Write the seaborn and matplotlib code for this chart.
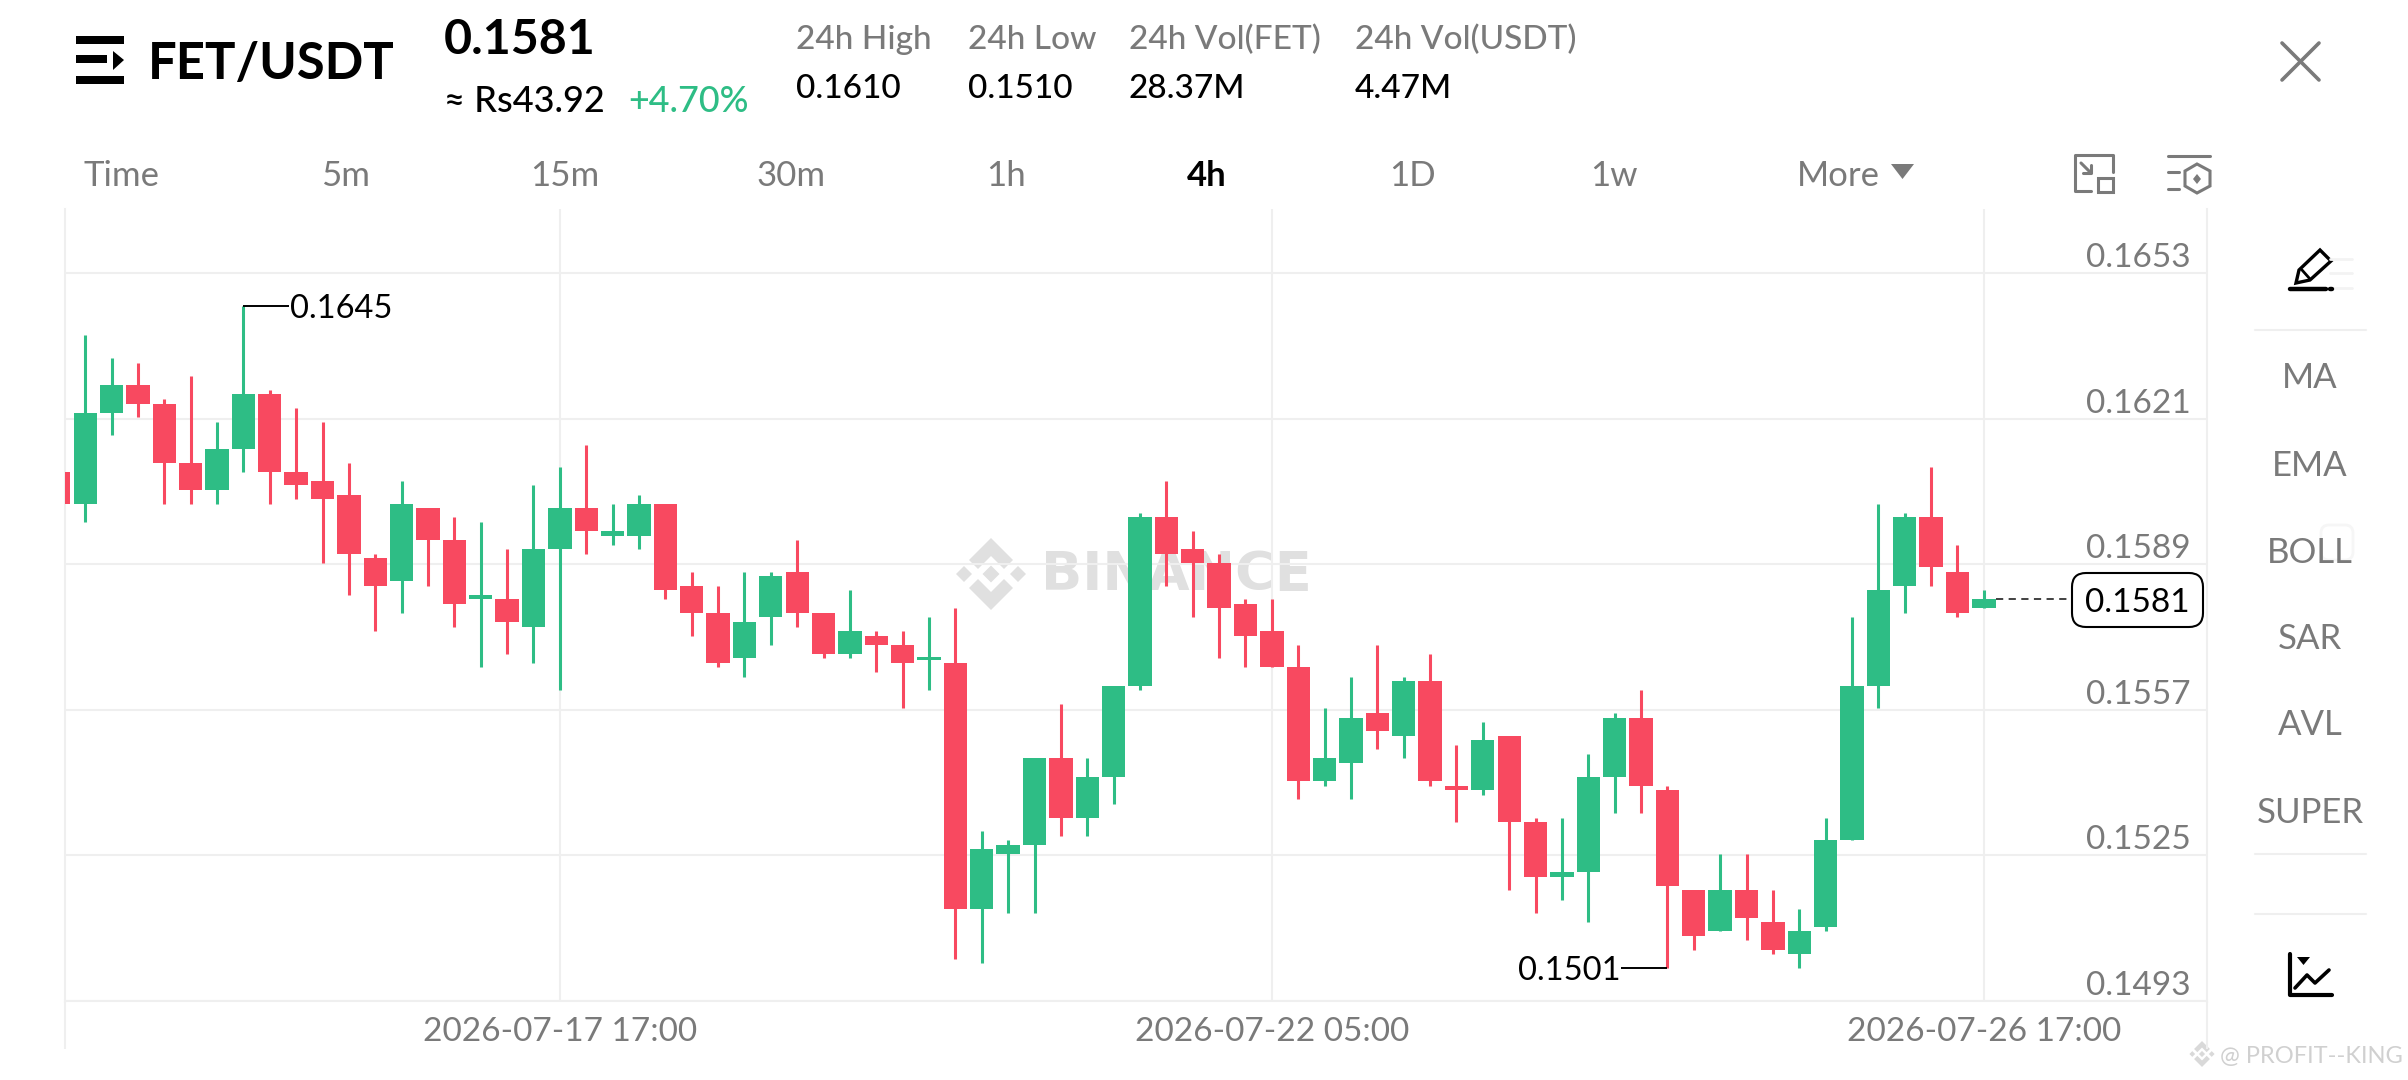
import matplotlib
matplotlib.use("Agg")
import matplotlib.pyplot as plt
from matplotlib.patches import Polygon, FancyBboxPatch, Rectangle
from matplotlib.ticker import FuncFormatter
import numpy as np
import pandas as pd
import seaborn as sns

# ---- data ----
opens = [.1609,.1602,.1622,.1628,.1624,.1611,.1605,.1614,.1626,.1609,.1607,.1604,.1590,.1585,.1601,.1594,.1581,.1581,.1575,.1592,
         .1601,.1595,.1595,.1602,.1584,.1578,.1568,.1577,.1587,.1578,.1569,.1573,.1571,.1568,.1567,.1513,.1525,.1527,.1546,.1533,
         .1542,.1562,.1599,.1592,.1589,.1580,.1574,.1566,.1541,.1545,.1556,.1551,.1563,.1540,.1539,.1551,.1532,.1520,.1521,.1542,
         .1555,.1539,.1517,.1508,.1517,.1510,.1503,.1509,.1528,.1562,.1584,.1599,.1587,.1579]
highs = [.1609,.1639,.1634,.1633,.1625,.1630,.1620,.16455,.1627,.1623,.1620,.1611,.1591,.1607,.1601,.1599,.1598,.1592,.1606,.1610,
         .1615,.1602,.1604,.1602,.1587,.1584,.1587,.1587,.1594,.1578,.1583,.1574,.1574,.1577,.1579,.1530,.1528,.1546,.1558,.1546,
         .1562,.1600,.1607,.1596,.1591,.1581,.1581,.1571,.1557,.1564,.1571,.1564,.1569,.1549,.1554,.1551,.1533,.1533,.1547,.1556,
         .1561,.1540,.1517,.1525,.1525,.1517,.1513,.1533,.1577,.1602,.1600,.1610,.1593,.1583]
lows  = [.1602,.1598,.1617,.1621,.1602,.1602,.1602,.1609,.1602,.1603,.1589,.1582,.1574,.1578,.1584,.1575,.1566,.1569,.1567,.1561,
         .1591,.1593,.1592,.1581,.1573,.1566,.1564,.1571,.1575,.1568,.1568,.1565,.1557,.1561,.1502,.1501,.1512,.1512,.1529,.1529,
         .1536,.1561,.1584,.1577,.1568,.1566,.1566,.1537,.1540,.1537,.1548,.1546,.1540,.1532,.1538,.1517,.1512,.1515,.1510,.1534,
         .1534,.1500,.1504,.1508,.1506,.1503,.1500,.1508,.1528,.1557,.1578,.1584,.1577,.1579]
closes= [.1602,.1622,.1628,.1624,.1611,.1605,.1614,.1626,.1609,.1606,.1603,.1591,.1584,.1602,.1594,.1580,.1582,.1576,.1592,.1601,
         .1596,.1596,.1602,.1583,.1578,.1567,.1576,.1586,.1578,.1569,.1574,.1571,.1567,.1568,.1513,.1526,.1527,.1546,.1533,.1542,
         .1562,.1599,.1591,.1589,.1579,.1573,.1566,.1541,.1546,.1555,.1552,.1563,.1541,.1539,.1550,.1532,.1520,.1521,.1542,.1555,
         .1540,.1518,.1507,.1517,.1511,.1504,.1508,.1528,.1562,.1583,.1599,.1588,.1578,.1581]
price_ticks = [0.16527, 0.16207, 0.15887, 0.15567, 0.15247, 0.14927]  # rounded to 4 places on the axis
time_positions = [19, 46, 73]
time_labels = ["2026-07-17 17:00", "2026-07-22 05:00", "2026-07-26 17:00"]
high_mark_label, low_mark_label, last_price_label = "0.1645", "0.1501", "0.1581"
interval_tabs = ["5m", "15m", "30m", "1h", "4h", "1D", "1w"]
stat_titles = ["24h High", "24h Low", "24h Vol(FET)", "24h Vol(USDT)"]
stat_values = ["0.1610", "0.1510", "28.37M", "4.47M"]
side_tools = ["MA", "EMA", "BOLL", "SAR", "AVL", "SUPER"]

GREEN, RED = "#2EBD85", "#F84960"
GRID, GREY, FAINT = "#EFEFEF", "#7A7A7A", "#E0E0E0"
W, H = 2408, 1080

sns.set_theme(style="white")
plt.rcParams["font.family"] = ["Lato", "DejaVu Sans"]

fig = plt.figure(figsize=(W / 100, H / 100), dpi=100, facecolor="white")

def px_axes(z):
    a = fig.add_axes([0, 0, 1, 1], zorder=z)
    a.set_xlim(0, W); a.set_ylim(H, 0); a.axis("off"); a.patch.set_alpha(0)
    return a

back = px_axes(0)
front = px_axes(5)

def logo(a, cx, cy, s, color):
    def d(x, y, r):
        a.add_patch(Polygon([(cx+(x)*s, cy+(y-r)*s), (cx+(x+r)*s, cy+y*s), (cx+x*s, cy+(y+r)*s), (cx+(x-r)*s, cy+y*s)], fc=color, ec="none"))
    d(0, 0, 8.5); d(-27, 0, 8); d(27, 0, 8)
    for sg in (-1, 1):
        pts = [(0,-36),(22,-14),(13,-5),(0,-18),(-13,-5),(-22,-14)]
        a.add_patch(Polygon([(cx+x*s, cy+sg*y*s) for x, y in pts], fc=color, ec="none"))

# watermarks
logo(back, 991, 574, 1.0, FAINT)
back.text(1041, 575, "BINANCE", fontsize=39, fontweight="bold", family="DejaVu Sans", color=FAINT, ha="left", va="center")

# chart
L, R, T, B = 65, 2207, 209, 1001
PX_PER_PRICE = 145.6 / 0.0032
ax = fig.add_axes([L / W, 1 - B / H, (R - L) / W, (B - T) / H], zorder=2)
ax.patch.set_alpha(0)

idx = np.arange(len(opens))
df = pd.DataFrame({"i": idx, "o": opens, "h": highs, "l": lows, "c": closes})
df["dir"] = np.where(df.c >= df.o, "up", "down")
wicks = df.melt(id_vars=["i", "dir"], value_vars=["h", "l"], value_name="price")
palette = {"up": GREEN, "down": RED}
sns.lineplot(data=wicks, x="i", y="price", units="i", estimator=None, hue="dir", palette=palette,
             legend=False, linewidth=2.2, solid_capstyle="butt", ax=ax, zorder=3)
min_h = 0.00007
heights = np.maximum(np.abs(df.c - df.o), min_h)
mids = (df.c + df.o) / 2
ax.bar(df.i, heights, bottom=mids - heights / 2, width=0.885, color=df["dir"].map(palette), linewidth=0, zorder=4)

ax.set_xlim(1 - 20.2 / 26.37, 1 + 2121.8 / 26.37)
ax.set_ylim(price_ticks[-1], price_ticks[0] + (273 - T) / PX_PER_PRICE)
ax.set_xlabel(""); ax.set_ylabel("")
ax.set_axisbelow(True)
ax.grid(True, color=GRID, linewidth=1.5)
ax.spines["top"].set_visible(False)
for s in ("left", "right", "bottom"):
    ax.spines[s].set_color(GRID); ax.spines[s].set_linewidth(1.5)

ax.set_xticks(time_positions)
ax.set_xticklabels(time_labels)
ax.set_yticks(price_ticks)
ax.yaxis.set_major_formatter(FuncFormatter(lambda v, _: f"{v:.4f}"))
ax.yaxis.tick_right()
ax.tick_params(axis="x", length=0, pad=11.2, labelsize=24, labelcolor=GREY)
ax.tick_params(axis="y", length=0, pad=-11.5, labelsize=24, labelcolor=GREY)
for t in ax.get_yticklabels():
    t.set_ha("right"); t.set_va("bottom")

# high / low marks
hi = int(np.argmax(highs)); lo = int(np.argmin(lows[:62]))
ax.plot([hi, hi + 1.72], [highs[hi]] * 2, color="black", lw=1.4, zorder=5, solid_capstyle="butt")
ax.annotate(high_mark_label, (hi + 1.75, highs[hi]), xytext=(0, -2), textcoords="offset points",
            fontsize=23.5, color="black", va="center", ha="left")
ax.plot([lo - 1.75, lo], [lows[lo]] * 2, color="black", lw=1.4, zorder=5, solid_capstyle="butt")
ax.annotate(low_mark_label, (lo - 1.78, lows[lo]), xytext=(0, -2), textcoords="offset points",
            fontsize=23.5, color="black", va="center", ha="right")

# last price
ax.plot([idx[-1] + 0.45, idx[-1] + 3.35], [closes[-1]] * 2, color="#333333", lw=1.3, ls=(0, (4, 3)), zorder=5)
front.add_patch(FancyBboxPatch((2080, 581), 115, 38, boxstyle="round,pad=8,rounding_size=14", fc="white", ec="black", lw=1.5))
front.text(2137.5, 603, last_price_label, fontsize=24, color="black", ha="center", va="center")

# axis extensions below the plot
for x in (L, R):
    front.plot([x, x], [B, 1049], color=GRID, lw=1.5, solid_capstyle="butt")

# header
front.add_patch(Rectangle((76, 36), 48, 7.5, fc="black", ec="none"))
front.add_patch(Rectangle((76, 76), 48, 7.5, fc="black", ec="none"))
front.add_patch(Rectangle((76, 55), 31, 8, fc="black", ec="none"))
front.add_patch(Polygon([(113, 51), (124, 60), (113, 70)], fc="black", ec="none"))
front.text(148, 64, "FET/USDT", fontsize=36.5, fontweight="bold", color="black", va="center")
front.text(444, 40, last_price_label, fontsize=34.8, fontweight="bold", color="black", va="center")
front.text(444, 101, "\u2248 Rs43.92", fontsize=26, fontweight="medium", color="black", va="center")
front.text(628, 101, "+4.70%", fontsize=25.8, fontweight="medium", color=GREEN, va="center")
for x, a, b in zip([796, 968, 1129, 1355], stat_titles, stat_values):
    front.text(x, 40, a, fontsize=24, fontweight="medium", color=GREY, va="center")
    front.text(x, 89, b, fontsize=24, fontweight="medium", color="black", va="center")

# interval bar
front.text(83, 176, "Time", fontsize=25, color=GREY, va="center")
for x, s in zip([346, 565, 791, 1006, 1207, 1412, 1614], interval_tabs):
    bold = s == "4h"
    front.text(x, 176, s, fontsize=25, color="black" if bold else GREY, fontweight="bold" if bold else "normal", ha="center", va="center")
front.text(1838, 176, "More", fontsize=25, color=GREY, ha="center", va="center")
front.add_patch(Polygon([(1891, 164), (1914, 164), (1902.5, 179)], fc=GREY, ec="none"))

# close cross
front.plot([2282, 2319], [43, 80], color=GREY, lw=2.6, solid_capstyle="round")
front.plot([2282, 2319], [80, 43], color=GREY, lw=2.6, solid_capstyle="round")

# small toolbar icons
front.plot([2113, 2113, 2075, 2075, 2091], [172, 155, 155, 191, 191], color=GREY, lw=2.2)
front.add_patch(Rectangle((2098, 178), 15, 14, fc="none", ec=GREY, lw=2.2))
front.plot([2081, 2091], [163, 173], color=GREY, lw=2.2)
front.plot([2091, 2091, 2083], [165, 173, 173], color=GREY, lw=2.2)
front.plot([2168, 2210], [156, 156], color=GREY, lw=2.2)
front.plot([2168, 2179], [172, 172], color=GREY, lw=2.2)
front.plot([2168, 2179], [189, 189], color=GREY, lw=2.2)
front.add_patch(Polygon([(2197, 164), (2210, 171), (2210, 186), (2197, 193), (2185, 186), (2185, 171)], fc="none", ec=GREY, lw=2.2))
front.add_patch(Polygon([(2197, 174), (2201, 179), (2197, 184), (2193, 179)], fc=GREY, ec="none"))

# side panel
for y in (259, 273, 288):
    front.plot([2330, 2352], [y, y], color="#F3F3F3", lw=2)
front.add_patch(Polygon([(2296, 283), (2299, 270), (2320, 250), (2331, 261), (2310, 280)], fc="white", ec="black", lw=2.4))
front.plot([2302, 2310], [270, 279], color="black", lw=2)
front.plot([2290, 2326], [289, 289], color="black", lw=3.2, solid_capstyle="round")
front.plot([2330, 2332], [289, 289], color="black", lw=3.2)
for y in (330, 854, 914):
    front.plot([2255, 2366], [y, y], color=GRID, lw=1.5)
front.add_patch(FancyBboxPatch((2326, 530), 22, 25, boxstyle="round,pad=5,rounding_size=8", fc="none", ec="#F6F6F6", lw=2))
for y, s in zip([378, 466, 553, 639, 725, 813], side_tools):
    front.text(2310, y, s, fontsize=25, color=GREY, ha="center", va="center")
front.plot([2290, 2290, 2332], [954, 995, 995], color="black", lw=3)
front.add_patch(Polygon([(2297, 957), (2310, 957), (2303.5, 965)], fc="black", ec="none"))
front.plot([2295, 2307, 2315, 2329], [988, 975, 983, 970], color="black", lw=2.6)

logo(front, 2202, 1054, 0.36, "#D9D9D9")
front.text(2220, 1056, "@ PROFIT--KING", fontsize=17, color="#D0D0D0", va="center")

fig.savefig("out.png", dpi=100, facecolor="white")
